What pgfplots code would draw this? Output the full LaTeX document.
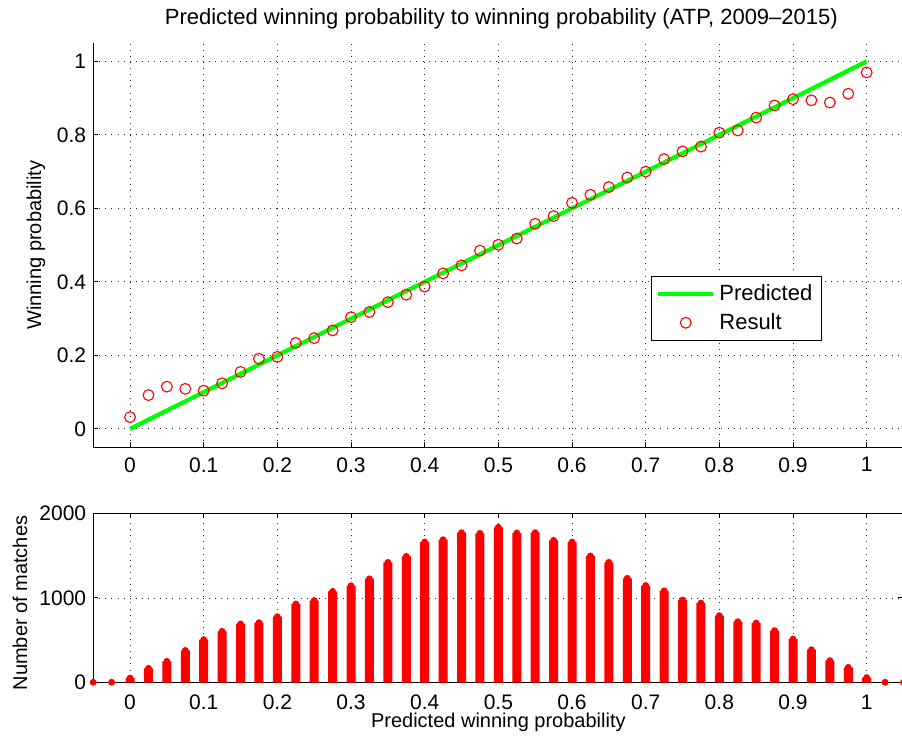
\documentclass[border=0pt]{standalone}
\usepackage{pgfplots}
\pgfplotsset{compat=1.18}
\usepackage{fontspec}
\setmainfont{Liberation Sans}

\pgfplotstableread{
x y
0 0.032
0.025 0.092
0.05 0.115
0.075 0.109
0.1 0.104
0.125 0.124
0.15 0.155
0.175 0.191
0.2 0.196
0.225 0.234
0.25 0.247
0.275 0.268
0.3 0.304
0.325 0.318
0.35 0.345
0.375 0.365
0.4 0.387
0.425 0.423
0.45 0.445
0.475 0.485
0.5 0.501
0.525 0.518
0.55 0.558
0.575 0.579
0.6 0.615
0.625 0.637
0.65 0.658
0.675 0.684
0.7 0.700
0.725 0.734
0.75 0.755
0.775 0.768
0.8 0.806
0.825 0.812
0.85 0.847
0.875 0.880
0.9 0.897
0.925 0.894
0.95 0.888
0.975 0.912
1 0.970
}\resulttab

\pgfplotstableread{
x n
-0.05 5
-0.025 5
0 55
0.025 170
0.05 252
0.075 381
0.1 508
0.125 606
0.15 693
0.175 708
0.2 779
0.225 929
0.25 970
0.275 1078
0.3 1145
0.325 1226
0.35 1420
0.375 1491
0.4 1661
0.425 1688
0.45 1771
0.475 1763
0.5 1834
0.525 1767
0.55 1771
0.575 1680
0.6 1661
0.625 1496
0.65 1421
0.675 1232
0.7 1147
0.725 1084
0.75 976
0.775 940
0.8 791
0.825 720
0.85 704
0.875 614
0.9 515
0.925 389
0.95 260
0.975 181
1 60
1.025 5
1.05 5
}\counttab

\pgfplotsset{
  mstyle/.style={
    scale only axis,
    width=405.15pt,
    xmin=-0.05, xmax=1.05,
    xtick={0,0.1,0.2,0.3,0.4,0.5,0.6,0.7,0.8,0.9,1},
    tick align=inside,
    major tick length=2.5pt,
    grid=major,
    grid style={black!85, line width=0.45pt, dash pattern=on 0.45pt off 2.6pt},
    tick label style={font=\fontsize{10.5}{12}\selectfont},
    label style={font=\fontsize{11}{13}\selectfont},
    /pgf/number format/assume math mode=true,
    /pgf/number format/1000 sep={},
    axis line style={line width=0.5pt},
    every tick/.style={black, line width=0.5pt},
  },
  lineleg/.style={legend image code/.code={\draw[##1] (0pt,0pt) -- (27.5pt,0pt);}},
  markleg/.style={legend image code/.code={\draw[##1, mark repeat=2, mark phase=2] plot coordinates {(0pt,0pt) (13.75pt,0pt) (27.5pt,0pt)};}},
}

\begin{document}
\begin{tikzpicture}
\begin{axis}[mstyle,
  at={(46.6pt,147.35pt)}, anchor=south west,
  height=202.15pt,
  ymin=-0.05, ymax=1.05,
  ytick={0,0.2,0.4,0.6,0.8,1},
  axis x line=bottom, axis y line=left, axis line style={-},
  tick align=inside,
  xticklabel style={yshift=-1.5pt},
  title={Predicted winning probability to winning probability (ATP, 2009--2015)},
  title style={font=\fontsize{11}{13}\selectfont, at={(axis description cs:0.5,1)}, anchor=center, yshift=6pt, xshift=1.5pt},
  ylabel={Winning probability},
  every axis y label/.style={at={(axis description cs:-0.0706,0.5)}, rotate=90, anchor=center},
  legend style={at={(axis description cs:0.688,0.424)}, anchor=north west,
    draw=black, line width=0.5pt, font=\fontsize{11}{13}\selectfont,
    legend cell align=left, inner xsep=2.5pt, inner ysep=2pt, row sep=1pt},
]
\addplot[color={rgb,255:red,0;green,255;blue,0}, line width=2.1pt, lineleg]
  coordinates {(0,0) (1,1)};
\addlegendentry{Predicted}
\addplot[only marks, mark=o, red, mark size=2.7pt, mark options={line width=0.55pt}, markleg]
  table[x=x, y=y] {\resulttab};
\addlegendentry{Result}
\end{axis}

\begin{axis}[mstyle,
  at={(46.6pt,29.65pt)}, anchor=south west,
  height=84.7pt,
  ymin=0, ymax=2000,
  ytick={0,1000,2000},
  xtick pos=both, ytick pos=both,
  xticklabel style={yshift=-2.5pt},
  xlabel={Predicted winning probability},
  every axis x label/.style={at={(axis description cs:0.5,-0.232)}, anchor=center},
  ylabel={Number of matches},
  every axis y label/.style={at={(axis description cs:-0.0903,0.47)}, rotate=90, anchor=center},
]
\addplot[ybar, bar width=4.5pt, fill=red, draw=none] table[x=x, y=n] {\counttab};
\addplot[only marks, mark=*, red, mark size=1.5pt] table[x=x, y=n] {\counttab};
\end{axis}
\pgfresetboundingbox
\useasboundingbox (0,0) rectangle (451pt,371pt);
\end{tikzpicture}
\end{document}
